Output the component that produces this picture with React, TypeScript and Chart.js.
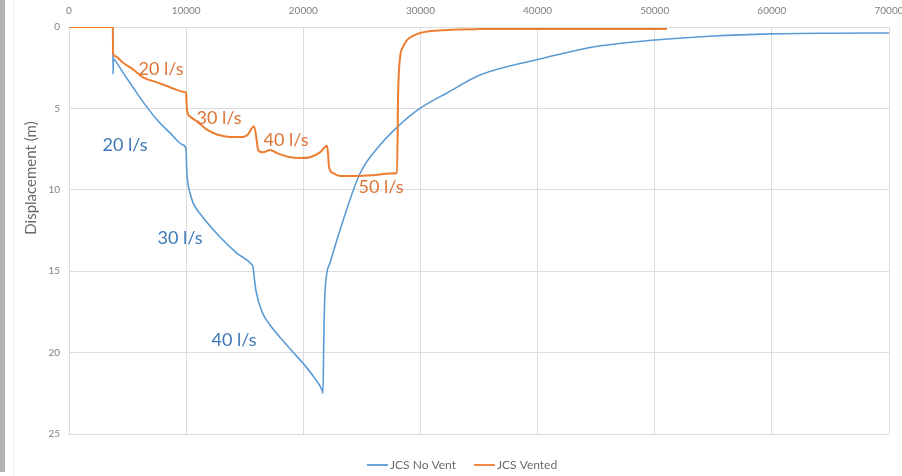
import React, { useEffect, useRef } from "react";
import { Chart, registerables } from "chart.js";

Chart.register(...registerables);

// ---- data ----
const xTickValues = [0, 10000, 20000, 30000, 40000, 50000, 60000, 70000];
const yTickValues = [0, 5, 10, 15, 20, 25];

const seriesNames = ["JCS No Vent", "JCS Vented"];
const seriesColors = ["#5B9BD5", "#ED7D31"];
const yAxisTitle = "Displacement (m)";

const noVentTime = [
  0, 3740, 3760, 3790, 3930, 4610, 5460, 6320, 7510, 8620, 9730, 9990, 10050, 10150, 10330, 10590,
  11440, 12890, 14340, 15620, 15700, 15800, 15960, 16480, 17160, 18180, 19290, 20150, 21000,
  21600, 21680, 21750, 21850, 22280, 23390, 24840, 26550, 28090, 29960, 32270, 35090, 40000,
  45000, 50000, 55000, 60000, 65000, 70000,
];
const noVentDisp = [
  0, 0, 2.9, 1.95, 2.05, 2.8, 3.7, 4.6, 5.7, 6.5, 7.25, 7.5, 8.8, 9.6, 10.2, 10.8,
  11.7, 12.9, 13.9, 14.6, 14.7, 15.3, 16.2, 17.5, 18.3, 19.2, 20.1, 20.8, 21.6,
  22.3, 22.5, 19.2, 16.3, 14.5, 11.9, 9.0, 7.25, 6.1, 5.0, 4.05, 2.95, 2.0,
  1.2, 0.8, 0.55, 0.42, 0.38, 0.37,
];

const ventedTime = [
  0, 3740, 3760, 3930, 4610, 5460, 6320, 7510, 8620, 9900, 9990, 10073, 10330, 10927, 11781,
  12635, 13745, 14854, 15281, 15623, 15793, 16050, 16135, 16562, 17159, 17757, 18867, 19720,
  20574, 21428, 22025, 22110, 22196, 22537, 23135, 24586, 25952, 27404, 28001, 28100, 28260,
  28510, 28850, 29370, 29960, 32270, 35090, 40000, 45000, 51050,
];
const ventedDisp = [
  0, 0, 1.6, 1.8, 2.2, 2.6, 3.1, 3.4, 3.7, 4.0, 4.05, 5.1, 5.5, 5.8, 6.3,
  6.6, 6.75, 6.75, 6.6, 6.2, 6.1, 7.1, 7.55, 7.7, 7.55, 7.75, 8.0, 8.05,
  8.0, 7.7, 7.3, 7.75, 8.6, 8.97, 9.15, 9.15, 9.1, 9.0, 8.97, 4.0, 1.9,
  1.23, 0.8, 0.55, 0.37, 0.18, 0.13, 0.12, 0.12, 0.12,
];

const rateLabels = ["20 l/s", "30 l/s", "40 l/s", "50 l/s", "20 l/s", "30 l/s", "40 l/s"];
const rateLabelTime = [7854, 12806, 18525, 26635, 4781, 9476, 14086];
const rateLabelDisp = [2.58, 5.59, 6.94, 9.83, 7.25, 12.96, 19.23];
const rateLabelSeries = [1, 1, 1, 1, 0, 0, 0];
const rateLabelColors = ["#3F78B8", "#DD7435"];

const FONT = "Lato, 'Open Sans', sans-serif";

const toPoints = (xs: number[], ys: number[]) => xs.map((x, i) => ({ x, y: ys[i] }));

const rateLabelPlugin = {
  id: "rateLabels",
  afterDatasetsDraw(chart: any) {
    const { ctx, scales } = chart;
    ctx.save();
    ctx.font = `18px ${FONT}`;
    ctx.textAlign = "center";
    ctx.textBaseline = "middle";
    rateLabels.forEach((t, i) => {
      ctx.fillStyle = rateLabelColors[rateLabelSeries[i]];
      ctx.fillText(
        t,
        scales.x.getPixelForValue(rateLabelTime[i]),
        scales.y.getPixelForValue(rateLabelDisp[i])
      );
    });
    ctx.restore();
  },
};

const extrasPlugin = {
  id: "extras",
  afterDraw(chart: any) {
    const { ctx, chartArea } = chart;
    ctx.save();
    // y axis title
    ctx.font = `15px ${FONT}`;
    ctx.fillStyle = "#6a6a6a";
    ctx.textAlign = "center";
    ctx.textBaseline = "middle";
    ctx.translate(31, chartArea.top + 151);
    ctx.rotate(-Math.PI / 2);
    ctx.fillText(yAxisTitle, 0, 0);
    ctx.restore();

    // legend
    ctx.save();
    ctx.font = `12px ${FONT}`;
    ctx.textBaseline = "middle";
    ctx.textAlign = "left";
    const y = chartArea.bottom + 31;
    let x = chartArea.left + 298;
    seriesNames.forEach((name, i) => {
      ctx.strokeStyle = seriesColors[i];
      ctx.lineWidth = 1.8;
      ctx.beginPath();
      ctx.moveTo(x, y);
      ctx.lineTo(x + 21, y);
      ctx.stroke();
      x += 23;
      ctx.fillStyle = "#6a6a6a";
      ctx.fillText(name, x, y);
      x += ctx.measureText(name).width + 18;
    });
    ctx.restore();
  },
};

export default function App() {
  const canvasRef = useRef<HTMLCanvasElement | null>(null);

  useEffect(() => {
    if (!canvasRef.current) return;
    const chart = new Chart(canvasRef.current, {
      type: "line",
      data: {
        datasets: [
          {
            label: seriesNames[0],
            data: toPoints(noVentTime, noVentDisp),
            borderColor: seriesColors[0],
            backgroundColor: seriesColors[0],
            borderWidth: 1.6,
            pointRadius: 0,
            cubicInterpolationMode: "monotone",
            order: 1,
          },
          {
            label: seriesNames[1],
            data: toPoints(ventedTime, ventedDisp),
            borderColor: seriesColors[1],
            backgroundColor: seriesColors[1],
            borderWidth: 2,
            pointRadius: 0,
            cubicInterpolationMode: "monotone",
            order: 0,
          },
        ],
      },
      options: {
        animation: false,
        responsive: false,
        maintainAspectRatio: false,
        layout: { padding: { left: 0, top: 0, right: 41, bottom: 42 } },
        plugins: {
          legend: { display: false },
          tooltip: { enabled: false },
        },
        scales: {
          x: {
            type: "linear",
            position: "top",
            min: 0,
            max: 70000,
            afterBuildTicks: (scale: any) => {
              scale.ticks = xTickValues.map((v) => ({ value: v }));
            },
            afterFit: (scale: any) => {
              scale.height = 27;
            },
            grid: { color: "#dcdcdc", lineWidth: 1, drawTicks: false },
            border: { color: "#dcdcdc" },
            ticks: {
              padding: 10,
              maxRotation: 0,
              autoSkip: false,
              color: "#7f7f7f",
              font: { family: FONT, size: 10 },
              callback: (v: any) => String(v),
            },
          },
          y: {
            type: "linear",
            reverse: true,
            min: 0,
            max: 25,
            afterBuildTicks: (scale: any) => {
              scale.ticks = yTickValues.map((v) => ({ value: v }));
            },
            afterFit: (scale: any) => {
              scale.width = 69;
            },
            grid: { color: "#dcdcdc", lineWidth: 1, drawTicks: false },
            border: { color: "#dcdcdc" },
            ticks: {
              padding: 9,
              color: "#7f7f7f",
              font: { family: FONT, size: 10 },
            },
          },
        },
      } as any,
      plugins: [rateLabelPlugin, extrasPlugin],
    });
    return () => chart.destroy();
  }, []);

  return (
    <div
      style={{
        position: "fixed",
        left: 0,
        top: 0,
        width: 902,
        height: 476,
        overflow: "hidden",
        background: "#ffffff",
      }}
    >
      <div style={{ position: "absolute", left: 0, top: 0, width: 5, height: 472, background: "#b3b3b3" }} />
      <div style={{ position: "absolute", left: 13, top: 0, width: 1, height: 476, background: "#efefef" }} />
      <canvas
        ref={canvasRef}
        width={930}
        height={476}
        style={{ position: "absolute", left: 0, top: 0, width: 930, height: 476 }}
      />
    </div>
  );
}
